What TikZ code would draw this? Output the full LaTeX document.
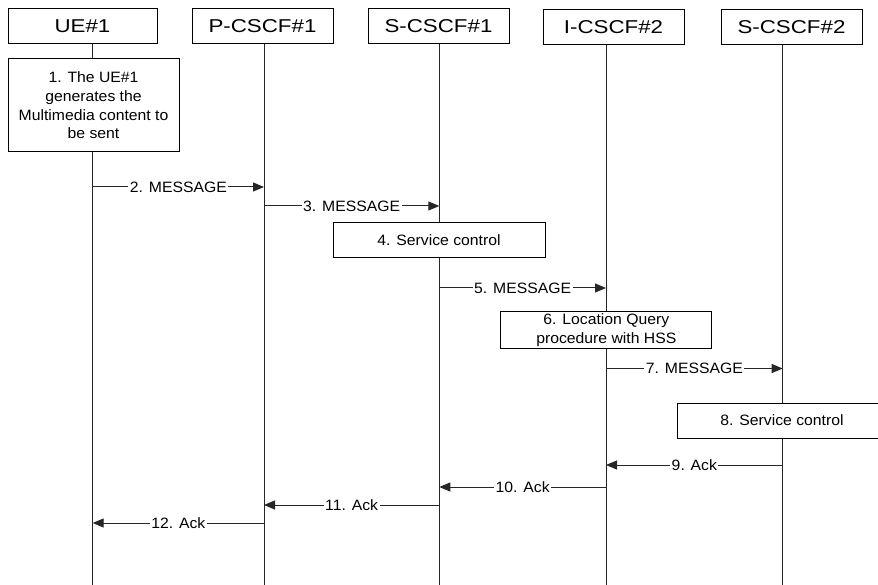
\documentclass[tikz,border=0pt]{standalone}
\usepackage{fontspec}
\setmainfont{Liberation Sans}
\newfontfamily\hdrfont[FakeStretch=1.2]{Liberation Sans}
\newfontfamily\smlfont[FakeStretch=1.05]{Liberation Sans}
\usetikzlibrary{arrows.meta}
\begin{document}
\begin{tikzpicture}[x=1pt,y=-1pt,
  hdr/.style={draw=black,line width=1pt,fill=white,minimum width=141pt,minimum height=35pt,inner sep=0pt,font=\hdrfont\fontsize{18.6}{22}\selectfont},
  actbox/.style={draw=black,line width=1pt,fill=white,inner sep=0pt,align=center,font=\smlfont\fontsize{15}{18.6}\selectfont},
  life/.style={line width=1pt,draw=black!85},
  msg/.style={line width=1pt,draw=black!85,-{Triangle[length=11pt,width=9pt]}},
  lbl/.style={fill=white,inner sep=1.5pt,font=\smlfont\fontsize{15}{18}\selectfont}]
\useasboundingbox (0,0) rectangle (878,585);
% lifelines
\coordinate (t1) at (92.7,44); \coordinate (b1) at (92.7,585);
\coordinate (t2) at (264,44); \coordinate (b2) at (264,585);
\coordinate (t3) at (439.3,44); \coordinate (b3) at (439.3,585);
\coordinate (t4) at (606,45); \coordinate (b4) at (606,585);
\coordinate (t5) at (782.7,45); \coordinate (b5) at (782.7,585);
\draw[life] (t1) -- (b1);
\draw[life] (t2) -- (b2);
\draw[life] (t3) -- (b3);
\draw[life] (t4) -- (b4);
\draw[life] (t5) -- (b5);
% headers
\node[hdr,minimum width=149pt] (ue) at (82.5,26.5) {UE\#1};
\node[hdr] (pc) at (262.5,26.5) {P-CSCF\#1};
\node[hdr] (sc1) at (438.5,26.5) {S-CSCF\#1};
\node[hdr] (ic) at (613.5,27.5) {I-CSCF\#2};
\node[hdr] (sc2) at (791.5,27.5) {S-CSCF\#2};
% action boxes
\node[actbox,minimum width=171pt,minimum height=93pt] (s1) at (93.5,105.5) {1. The UE\#1\\generates the\\Multimedia content to\\be sent};
\node[actbox,minimum width=212pt,minimum height=35pt] (s4) at (439,240) {4. Service control};
\node[actbox,minimum width=211pt,minimum height=36pt] (s6) at (606.3,330) {6. Location Query\\procedure with HSS};
\node[actbox,minimum width=210pt,minimum height=35pt] (s8) at (782,420.5) {8. Service control};
% message coordinates
\coordinate (m2a) at (92.7,187); \coordinate (m2b) at (264,187);
\coordinate (m3a) at (264,206); \coordinate (m3b) at (439.3,206);
\coordinate (m5a) at (439.3,288); \coordinate (m5b) at (606,288);
\coordinate (m7a) at (606,368.5); \coordinate (m7b) at (782.7,368.5);
\coordinate (m9a) at (782.7,465); \coordinate (m9b) at (606,465);
\coordinate (m10a) at (606,487); \coordinate (m10b) at (439.3,487);
\coordinate (m11a) at (439.3,505); \coordinate (m11b) at (264,505);
\coordinate (m12a) at (264,523); \coordinate (m12b) at (92.7,523);
\draw[msg] (m2a) -- node[lbl] (l2) {2. MESSAGE} (m2b);
\draw[msg] (m3a) -- node[lbl] (l3) {3. MESSAGE} (m3b);
\draw[msg] (m5a) -- node[lbl] (l5) {5. MESSAGE} (m5b);
\draw[msg] (m7a) -- node[lbl] (l7) {7. MESSAGE} (m7b);
\draw[msg] (m9a) -- node[lbl] (l9) {9. Ack} (m9b);
\draw[msg] (m10a) -- node[lbl] (l10) {10. Ack} (m10b);
\draw[msg] (m11a) -- node[lbl] (l11) {11. Ack} (m11b);
\draw[msg] (m12a) -- node[lbl] (l12) {12. Ack} (m12b);
\end{tikzpicture}
\end{document}
